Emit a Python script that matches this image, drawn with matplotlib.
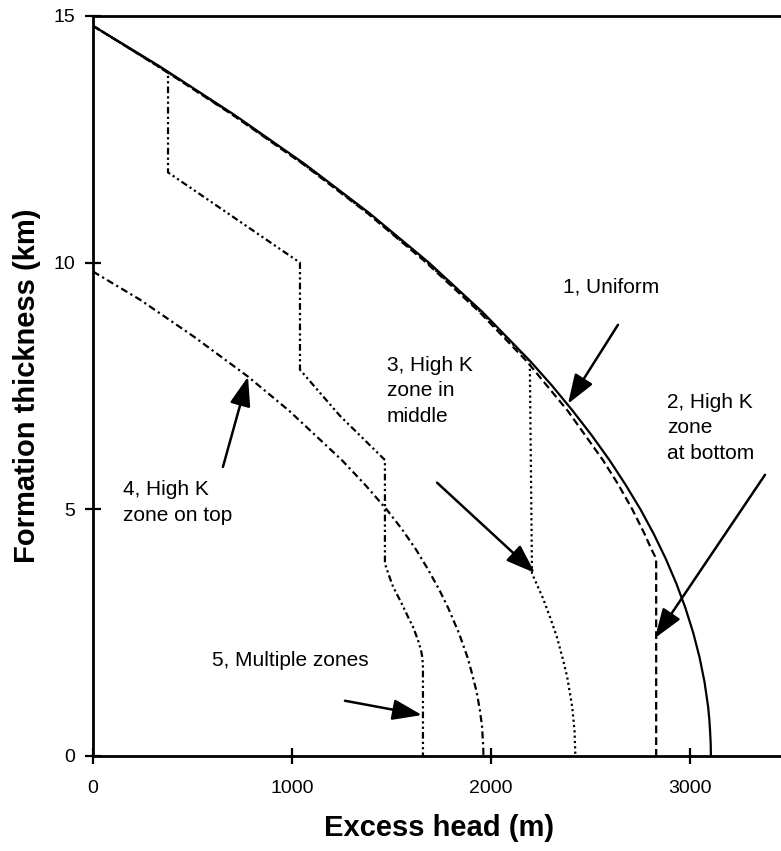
# -*- coding: utf-8 -*-
from matplotlib import pyplot as plt

# 1, uniform formation
z1 = [14.8, 14.0, 13.0, 12.0, 11.0, 10.0, 9.0, 8.0, 7.5, 7.0, 6.5, 6.0, 5.5,
      5.0, 4.5, 4.0, 3.5, 3.0, 2.5, 2.0, 1.5, 1.0, 0.75, 0.5, 0.25, 0.0]
head1 = [0, 327, 709, 1064, 1390, 1688, 1957, 2198, 2308, 2410, 2506, 2595,
         2676, 2751, 2818, 2878, 2931, 2977, 3016, 3048, 3073, 3091, 3097,
         3101, 3104, 3105]

# 2, high K zone at bottom
z2 = [14.8, 14.0, 13.0, 12.0, 11.0, 10.0, 9.0, 8.0, 7.0, 6.0, 5.5, 5.0, 4.5,
      4.2, 4.0, 0.0]
head2 = [0, 320, 700, 1055, 1380, 1675, 1942, 2180, 2385, 2562, 2640, 2710,
         2772, 2805, 2830, 2830]

# 3, high K zone in middle
z3 = [14.8, 14.0, 13.0, 12.0, 11.0, 10.0, 9.0, 8.0, 3.7, 3.2, 2.8, 2.4, 1.95,
      1.6, 1.0, 0.5, 0.0]
head3 = [0, 322, 703, 1058, 1383, 1680, 1948, 2195, 2206, 2261, 2298, 2332,
         2362, 2383, 2408, 2420, 2424]

# 4, high K zone on top
z4 = [9.82, 9.25, 8.5, 7.69, 7.0, 6.0, 5.5, 4.99, 4.6, 4.18, 3.8, 3.37, 3.0,
      2.49, 2.0, 1.74, 1.3, 0.93, 0.6, 0.18, 0.0]
head4 = [0, 236, 507, 779, 985, 1250, 1367, 1477, 1552, 1624, 1681, 1740,
         1785, 1839, 1882, 1900, 1928, 1944, 1955, 1961, 1962]

# 5, multiple zones
z5 = [14.8, 14.3, 13.85, 11.83, 10.0, 7.83, 6.9, 6.0, 3.9, 3.65, 3.43, 3.1,
      2.82, 2.6, 2.35, 2.15, 2.0, 1.8, 0.0]
head5 = [0, 200, 377, 377, 1040, 1040, 1240, 1467, 1467, 1488, 1508, 1550,
         1583, 1610, 1633, 1648, 1655, 1658, 1658]

# annotation text: (x, y, label)
labels = [
    (2362, 9.51, "1, Uniform"),
    (2884, 6.65, "2, High K\nzone\nat bottom"),
    (1477, 7.40, "3, High K\nzone in\nmiddle"),
    (151, 5.14, "4, High K\nzone on top"),
    (598, 1.93, "5, Multiple zones"),
]
# arrows: (tail x, tail y, tip x, tip y)
arrows = [
    (2638, 8.74, 2387, 7.14),
    (3377, 5.70, 2824, 2.39),
    (1729, 5.54, 2221, 3.71),
    (653, 5.86, 779, 7.69),
    (1266, 1.12, 1653, 0.83),
]

plt.rcParams["font.family"] = ["Liberation Sans", "DejaVu Sans"]

fig = plt.figure(figsize=(7.81, 8.51), dpi=100)
ax = fig.add_axes([93 / 781, 95 / 851, 696.5 / 781, 740 / 851])

lw = 1.6
ax.plot(head1, z1, "k-", lw=lw)
ax.plot(head2, z2, "k", lw=lw, dashes=(3.5, 1.8))
ax.plot(head3, z3, "k", lw=lw, dashes=(1.0, 1.4))
ax.plot(head4, z4, "k", lw=lw, dashes=(3.2, 1.6, 1.0, 1.6))
ax.plot(head5, z5, "k", lw=lw, dashes=(3.0, 1.4, 1.0, 1.4, 1.0, 1.4))

for x, y, s in labels:
    ax.text(x, y, s, fontsize=15, ha="left", va="center", linespacing=1.45)

for xt, yt, xh, yh in arrows:
    ax.annotate("", xy=(xh, yh), xytext=(xt, yt),
                arrowprops=dict(arrowstyle="-|>,head_length=0.9,head_width=0.32",
                                mutation_scale=20, lw=1.8, color="k",
                                shrinkA=0, shrinkB=0))

ax.set_xlim(0, 3500)
ax.set_ylim(0, 15)
ax.set_xticks([0, 1000, 2000, 3000])
ax.set_yticks([0, 5, 10, 15])
ax.tick_params(axis="both", direction="inout", length=11, width=1.6,
               labelsize=14)
ax.tick_params(axis="x", pad=12)
ax.tick_params(axis="y", pad=7.5)
for sp in ax.spines.values():
    sp.set_linewidth(2)

ax.set_xlabel("Excess head (m)", fontsize=21, fontweight="bold", va="center")
ax.set_ylabel("Formation thickness (km)", fontsize=21, fontweight="bold",
              va="center")
ax.xaxis.set_label_coords(0.497, -0.097)
ax.yaxis.set_label_coords(-0.095, 0.5)

fig.savefig("out.png", dpi=100)
